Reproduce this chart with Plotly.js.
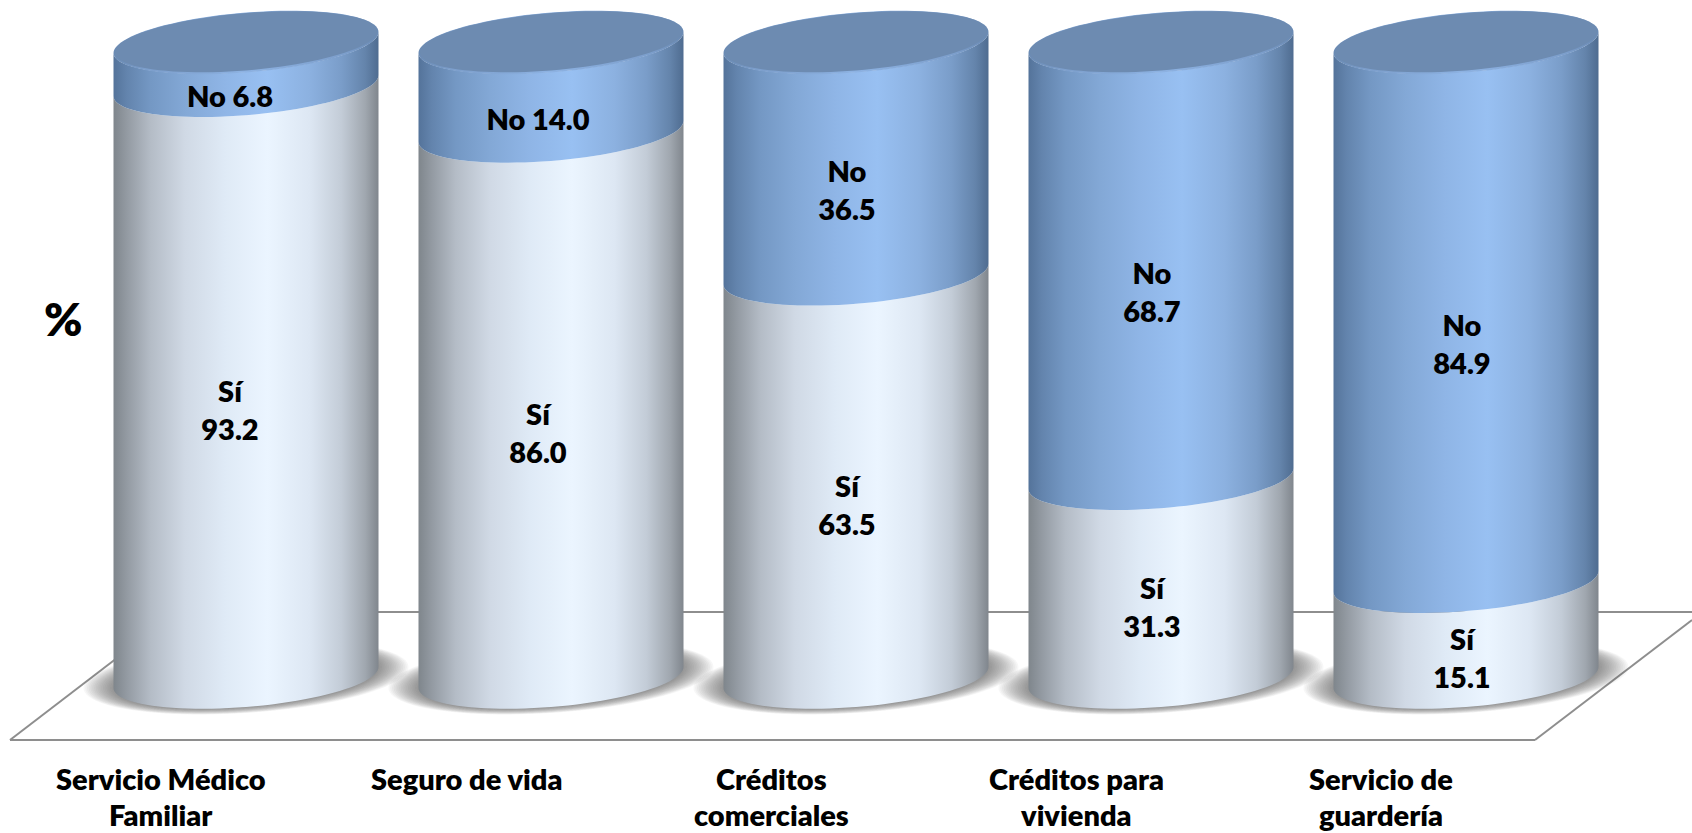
<!DOCTYPE html>
<html><head><meta charset="utf-8">
<script src="https://cdn.plot.ly/plotly-3.0.1.min.js"></script>
<style>html,body{margin:0;padding:0;background:#fff}#c{width:1692px;height:833px}</style>
</head><body><div id="c"></div>
<script>
// ---- data ----
const categoryLine1 = ["Servicio Médico","Seguro de vida","Créditos","Créditos para","Servicio de"];
const categoryLine2 = ["Familiar","","comerciales","vivienda","guardería"];
const siValues = [93.2,86.0,63.5,31.3,15.1];
const noValues = [6.8,14.0,36.5,68.7,84.9];
const noSingleLine = [true,true,false,false,false];
const siName = "Sí", noName = "No";

// ---- layout constants (pixels of the 1692x833 page) ----
const W=1692,H=833;
const CX0=246, STEP=305, ZERO_PX=677.5, PX_PER=6.35;
const RX=132.5, TILT=10.5, RY=29.5;
const labelShiftPx=[-16,-13,-9,-9,-4];
const FONT={family:"Lato, Carlito, sans-serif",size:29,color:"#000",weight:800};
const xR=[-CX0/STEP,(W-CX0)/STEP];
const yRange=[-(H-ZERO_PX)/PX_PER,ZERO_PX/PX_PER];
const dx=px=>px/STEP, dy=px=>px/PX_PER;
const N=48;

const siGrad=[[0,"#7f868c"],[0.05,"#939aa2"],[0.14,"#b4bcc6"],[0.27,"#d0d9e5"],[0.42,"#dfeaf6"],[0.58,"#ebf5ff"],[0.74,"#dde7f3"],[0.86,"#c3ccd7"],[0.95,"#a0a7af"],[1,"#80868d"]];
const noGrad=[[0,"#54739a"],[0.05,"#6384ad"],[0.14,"#7498c4"],[0.27,"#83a8d6"],[0.42,"#8fb5e6"],[0.58,"#98c0f2"],[0.74,"#8cb1e0"],[0.86,"#7a9dc9"],[0.95,"#6484ab"],[1,"#4f6c90"]];
const rimGrad=[[0,"#6a8ab3"],[0.12,"#7c9ecb"],[0.5,"#8db2e2"],[0.88,"#7c9ecb"],[1,"#6a8ab3"]];

function frontArc(i,v){const xs=[],ys=[];
  for(let k=0;k<=N;k++){const t=Math.PI-Math.PI*k/N;
    xs.push(i+dx(RX*Math.cos(t)));
    ys.push(v+dy(TILT*Math.cos(t)-RY*Math.sin(t)));}
  return [xs,ys];}
function ellipse(i,v,ax,tl,by,shiftY){const xs=[],ys=[];
  for(let k=0;k<=2*N;k++){const t=Math.PI*k/N;
    xs.push(i+dx(ax*Math.cos(t)));
    ys.push(v+dy((shiftY||0)+tl*Math.cos(t)+by*Math.sin(t)));}
  return [xs,ys];}
function band(i,v0,v1){const [ax,ay]=frontArc(i,v0),[bx,by]=frontArc(i,v1);
  return [ax.concat(bx.slice().reverse()),ay.concat(by.slice().reverse())];}
function poly(p,extra){return Object.assign({type:"scatter",mode:"none",x:p[0],y:p[1],fill:"toself",hoverinfo:"skip",showlegend:false},extra);}
const hGrad=c=>({fillgradient:{type:"horizontal",colorscale:c}});

const traces=[];
// soft contact shadows
siValues.forEach((_,i)=>{
  const S=18;
  for(let s=0;s<S;s++){const f=1-s/(S-1);
    traces.push(poly(ellipse(i,0,RX+30*f,TILT,RY+6*f,0),{fillcolor:"rgba(60,60,60,0.042)"}));}
});
// cylinders
siValues.forEach((si,i)=>{
  const top=si+noValues[i];
  traces.push(poly(band(i,0,si),hGrad(siGrad)));
  traces.push(poly(band(i,si,top),hGrad(noGrad)));
  traces.push(poly(ellipse(i,top,RX,TILT,RY+0.5),hGrad(rimGrad)));
  traces.push(poly(ellipse(i,top,RX-1.5,TILT,RY-0.8,0.8),{fillcolor:"#6d8bb1"}));
});
// data labels
const siOff=32.5, noOff=35.5, lineGap=19;
function textTrace(xs,ys,ts){return {type:"scatter",mode:"text",x:xs,y:ys,text:ts,textposition:"middle center",textfont:FONT,hoverinfo:"skip",showlegend:false,cliponaxis:false};}
const lx=[],ly=[],lt=[];
siValues.forEach((si,i)=>{
  const x=i+dx(labelShiftPx[i]), no=noValues[i];
  const ms=si/2-dy(siOff), mn=si+no/2-dy(noOff);
  lx.push(x,x); ly.push(ms+dy(lineGap),ms-dy(lineGap)); lt.push(siName,si.toFixed(1));
  if(noSingleLine[i]){lx.push(x);ly.push(mn);lt.push(noName+" "+no.toFixed(1));}
  else{lx.push(x,x);ly.push(mn+dy(lineGap),mn-dy(lineGap));lt.push(noName,no.toFixed(1));}
});
traces.push(textTrace(lx,ly,lt));

// category labels
const annotations=[];
const catShift=-85;
categoryLine1.forEach((c,i)=>{
  const x=i+dx(catShift);
  annotations.push({xref:"x",yref:"paper",x:x,y:1-778/H,text:c,showarrow:false,font:FONT,xanchor:"center",yanchor:"middle"});
  if(categoryLine2[i])annotations.push({xref:"x",yref:"paper",x:x,y:1-814.5/H,text:categoryLine2[i],showarrow:false,font:FONT,xanchor:"center",yanchor:"middle"});
});
annotations.push({xref:"paper",yref:"paper",x:63/W,y:1-318/H,text:"%",showarrow:false,font:{family:FONT.family,size:46,color:"#000",weight:800},xanchor:"center",yanchor:"middle"});

// floor
const fl=(x0,y0,x1,y1)=>({type:"line",xref:"paper",yref:"paper",layer:"below",x0:x0/W,y0:1-y0/H,x1:x1/W,y1:1-y1/H,line:{color:"#8e8e8e",width:2}});
const shapes=[fl(10,740,1535,740),fl(10,740,177,612),fl(177,612,1692,612),fl(1535,740,1692,620)];

Plotly.newPlot("c",traces,{
  width:W,height:H,margin:{l:0,r:0,t:0,b:0},showlegend:false,
  paper_bgcolor:"#fff",plot_bgcolor:"#fff",
  xaxis:{range:xR,visible:false,fixedrange:true},
  yaxis:{range:yRange,visible:false,fixedrange:true},
  annotations,shapes
},{displayModeBar:false,staticPlot:true});
</script></body></html>
